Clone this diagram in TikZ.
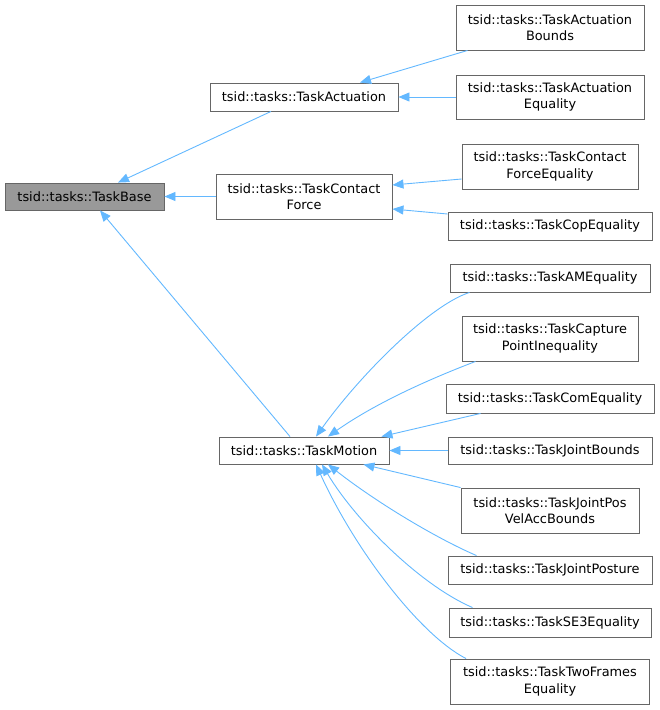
\documentclass[tikz,border=0pt]{standalone}
\usepackage{fontspec}
\setmainfont{DejaVu Sans}
\usetikzlibrary{arrows.meta}
\definecolor{edgeblue}{HTML}{63B8FF}
\definecolor{boxborder}{HTML}{666666}
\definecolor{basefill}{HTML}{999999}
\begin{document}
\begin{tikzpicture}[x=1pt,y=-1pt,
  box/.style={draw=boxborder,line width=0.9pt,fill=white,inner sep=0pt,align=center,
    font=\fontsize{12.9}{16.5}\selectfont},
  edge/.style={draw=edgeblue,line width=0.9pt,-{Triangle[length=11pt,width=9pt]}}]
\useasboundingbox (0,0) rectangle (660,710);
% nodes
\node[box,fill=basefill,minimum width=159pt,minimum height=27pt] (base) at (84.5,196.5) {tsid::tasks::TaskBase};
\node[box,minimum width=188pt,minimum height=28pt] (act) at (304,97) {tsid::tasks::TaskActuation};
\node[box,minimum width=176pt,minimum height=45pt] (cf) at (304,196.5) {tsid::tasks::TaskContact\\Force};
\node[box,minimum width=170pt,minimum height=27pt] (motion) at (304,450.5) {tsid::tasks::TaskMotion};
\node[box,minimum width=188pt,minimum height=45pt] (actb) at (550,27.5) {tsid::tasks::TaskActuation\\Bounds};
\node[box,minimum width=188pt,minimum height=44pt] (acte) at (550,97) {tsid::tasks::TaskActuation\\Equality};
\node[box,minimum width=176pt,minimum height=45pt] (cfe) at (550,166.5) {tsid::tasks::TaskContact\\ForceEquality};
\node[box,minimum width=204pt,minimum height=28pt] (cop) at (550,226) {tsid::tasks::TaskCopEquality};
\node[box,minimum width=200pt,minimum height=28pt] (am) at (550,278) {tsid::tasks::TaskAMEquality};
\node[box,minimum width=176pt,minimum height=45pt] (cap) at (550,338.5) {tsid::tasks::TaskCapture\\PointInequality};
\node[box,minimum width=208pt,minimum height=29pt] (com) at (550,398.5) {tsid::tasks::TaskComEquality};
\node[box,minimum width=204pt,minimum height=27pt] (jb) at (550,450.5) {tsid::tasks::TaskJointBounds};
\node[box,minimum width=178pt,minimum height=45pt] (pva) at (550,510.5) {tsid::tasks::TaskJointPos\\VelAccBounds};
\node[box,minimum width=204pt,minimum height=28pt] (jp) at (550,570) {tsid::tasks::TaskJointPosture};
\node[box,minimum width=202pt,minimum height=29pt] (se3) at (550,622.5) {tsid::tasks::TaskSE3Equality};
\node[box,minimum width=199pt,minimum height=45pt] (tf) at (550,681.5) {tsid::tasks::TaskTwoFrames\\Equality};
% edges to TaskBase
\draw[edge] ([xshift=-33pt]act.south) -- ([xshift=33.5pt]base.north);
\draw[edge] (cf.west) -- (base.east);
\draw[edge] ([xshift=-14pt]motion.north) -- ([xshift=15.5pt]base.south);
% edges to TaskActuation
\draw[edge] ([xshift=12pt]actb.south west) -- ([xshift=56pt]act.north);
\draw[edge] (acte.west) -- (act.east);
% edges to TaskContactForce
\draw[edge] ([yshift=-12.5pt]cfe.west) -- ([yshift=11.5pt]cf.east);
\draw[edge] ([yshift=12pt]cop.west) -- ([yshift=-12.5pt]cf.east);
% edges to TaskMotion
\draw[edge] ([xshift=20pt]am.south west) .. controls (430,305) and (360,375) .. ([xshift=12pt]motion.north);
\draw[edge] ([xshift=14pt]cap.south west) .. controls (440,375) and (380,400) .. ([xshift=24pt]motion.north);
\draw[edge] ([xshift=35pt]com.south west) -- ([xshift=-8pt]motion.north east);
\draw[edge] (jb.west) -- (motion.east);
\draw[edge] (pva.north west) -- ([xshift=-26pt]motion.south east);
\draw[edge] ([xshift=29pt]jp.north west) .. controls (440,540) and (380,505) .. ([xshift=24pt]motion.south);
\draw[edge] ([xshift=24pt]se3.north west) .. controls (420,585) and (355,520) .. ([xshift=18pt]motion.south);
\draw[edge] ([xshift=16pt]tf.north west) .. controls (420,635) and (355,550) .. ([xshift=12pt]motion.south);
\end{tikzpicture}
\end{document}
